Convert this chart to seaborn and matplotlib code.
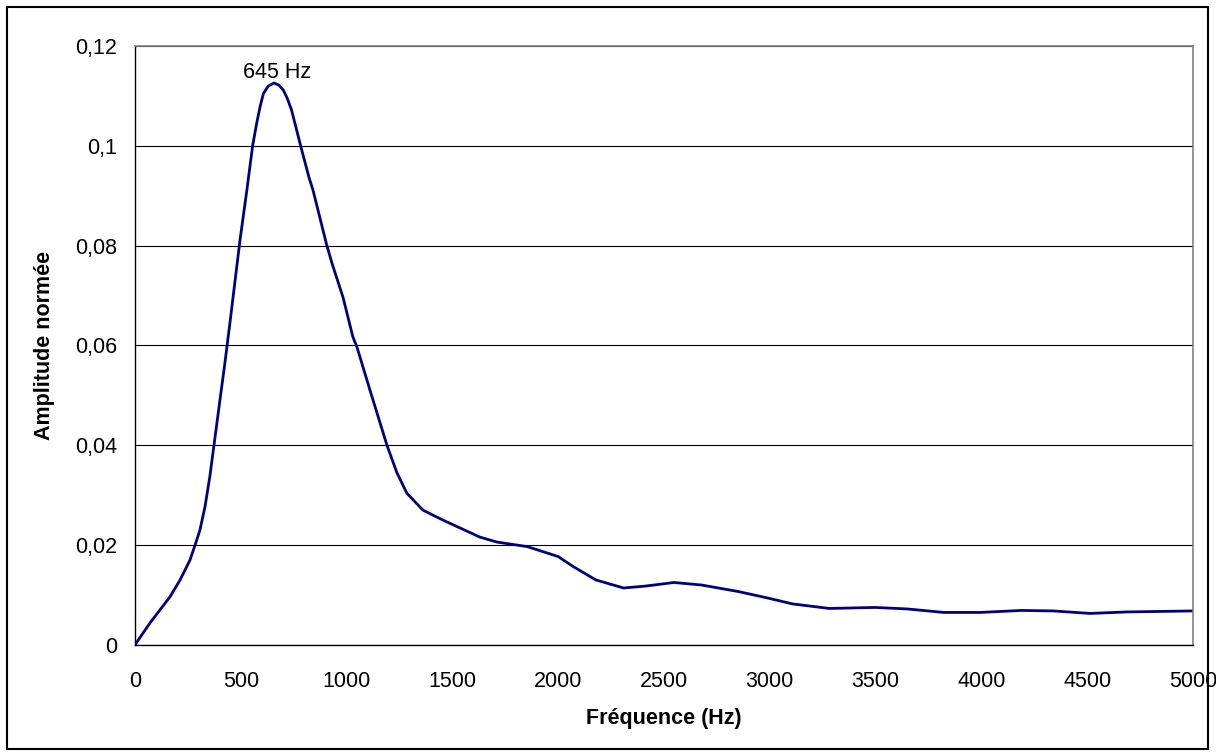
import matplotlib
matplotlib.use('Agg')
import matplotlib.pyplot as plt
import seaborn as sns
import pandas as pd
from matplotlib.patches import Rectangle

# Spectre
freq = [0, 71, 165, 213, 260, 284, 307, 331, 354, 378, 402, 425, 449, 496, 529,
        556, 575, 591, 607, 630, 657, 680, 701, 720, 740, 783, 823, 841, 907,
        931, 983, 1030, 1049, 1111, 1191, 1238, 1285, 1361, 1456, 1630, 1711,
        1853, 1898, 2000, 2071, 2179, 2309, 2417, 2547, 2677, 2850, 2979, 3109,
        3282, 3498, 3650, 3822, 3995, 4190, 4341, 4514, 4687, 5000]
amplitude = [0, 0.0044, 0.0096, 0.013, 0.017, 0.020, 0.023, 0.0277, 0.0338, 0.0415,
             0.0492, 0.0565, 0.0646, 0.081, 0.0912, 0.100, 0.1045, 0.1078, 0.1105,
             0.1120, 0.1126, 0.1122, 0.1112, 0.1095, 0.1072, 0.100, 0.0936, 0.0912,
             0.080, 0.0765, 0.0697, 0.0617, 0.0597, 0.051, 0.040, 0.0345, 0.0304,
             0.027, 0.025, 0.0216, 0.0206, 0.0197, 0.0191, 0.0177, 0.0157, 0.0130,
             0.0114, 0.0118, 0.0125, 0.0120, 0.0107, 0.0095, 0.0082, 0.0073,
             0.0075, 0.0072, 0.0065, 0.0065, 0.0069, 0.0068, 0.0063, 0.0066, 0.0068]

y_ticks = [0, 0.02, 0.04, 0.06, 0.08, 0.1, 0.12]
y_labels = ['0', '0,02', '0,04', '0,06', '0,08', '0,1', '0,12']
x_ticks = [0, 500, 1000, 1500, 2000, 2500, 3000, 3500, 4000, 4500, 5000]

peak_label = '645 Hz'
peak_pos = (671, 0.1136)

df = pd.DataFrame({'Fréquence (Hz)': freq, 'Amplitude normée': amplitude})

sns.set_style('white')
plt.rcParams['font.family'] = ['Liberation Sans', 'DejaVu Sans']
plt.rcParams['text.color'] = 'black'
plt.rcParams['axes.labelcolor'] = 'black'
plt.rcParams['xtick.color'] = 'black'
plt.rcParams['ytick.color'] = 'black'

fs = 15.5

fig = plt.figure(figsize=(12.16, 7.56), dpi=100)
ax = fig.add_axes([0.111, 0.147, 0.870, 0.792])

sns.lineplot(data=df, x='Fréquence (Hz)', y='Amplitude normée', ax=ax,
             color='#000080', linewidth=2.0)

ax.set_xlim(0, 5000)
ax.set_ylim(0, 0.12)
ax.set_xticks(x_ticks)
ax.set_xticklabels([str(t) for t in x_ticks])
ax.set_yticks(y_ticks)
ax.set_yticklabels(y_labels)
ax.tick_params(axis='x', labelsize=fs, direction='out', length=5, width=1, pad=14)
ax.tick_params(axis='y', labelsize=fs, direction='out', length=6, width=1, pad=7)
ax.grid(axis='y', color='black', linewidth=0.8)
ax.set_axisbelow(True)

for side in ['left', 'bottom']:
    ax.spines[side].set_color('black')
    ax.spines[side].set_linewidth(1)
for side in ['top', 'right']:
    ax.spines[side].set_color('#808080')
    ax.spines[side].set_linewidth(1.2)

ax.set_xlabel('Fréquence (Hz)', fontsize=fs, fontweight='bold')
ax.set_ylabel('Amplitude normée', fontsize=fs, fontweight='bold')
ax.xaxis.set_label_coords(0.5, -0.105)
ax.yaxis.set_label_coords(-0.076, 0.5)

ax.text(peak_pos[0], peak_pos[1], peak_label, ha='center', va='baseline',
        fontsize=fs)

fig.patches.append(Rectangle((7 / 1216, 7 / 756), 1201 / 1216, 742 / 756,
                             transform=fig.transFigure, fill=False,
                             edgecolor='black', linewidth=1.5))

fig.savefig('out.png', dpi=100)
